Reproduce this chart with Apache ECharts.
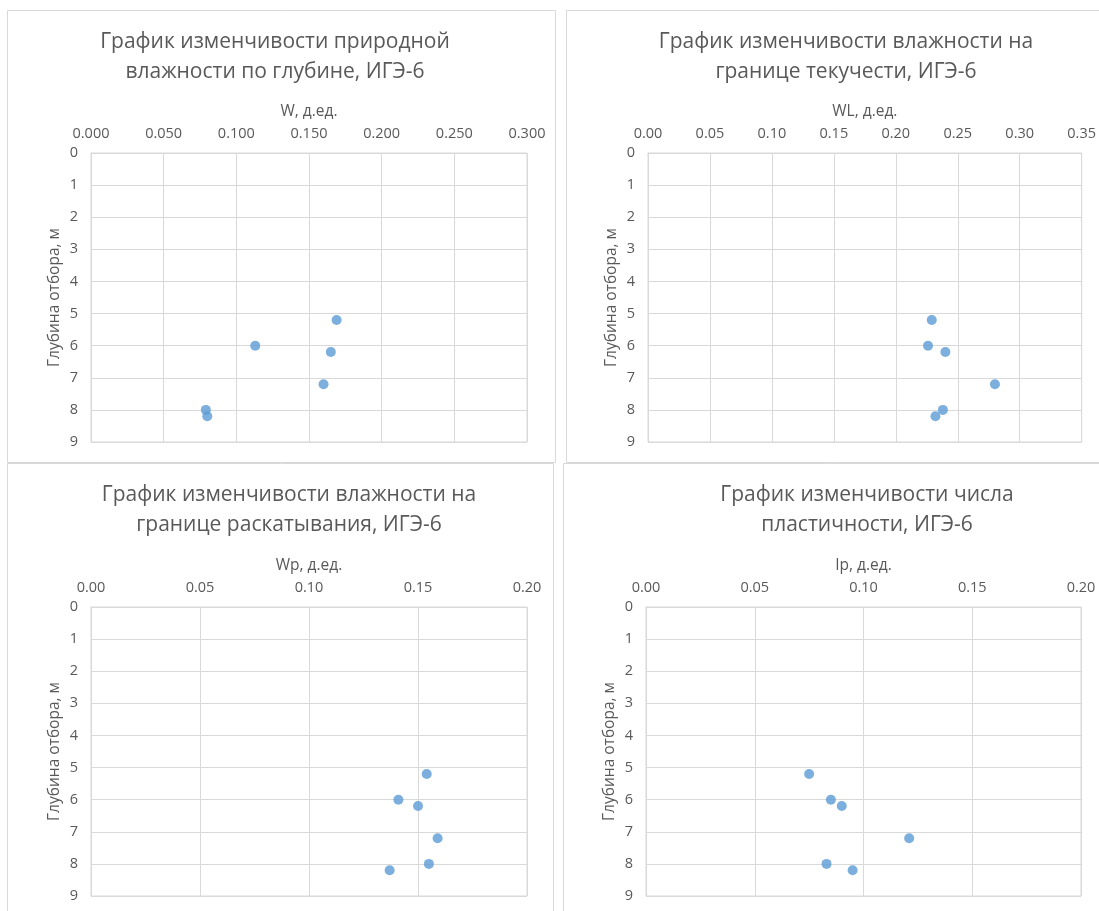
<!DOCTYPE html>
<html>
<head>
<meta charset="utf-8">
<script src="https://cdn.jsdelivr.net/npm/echarts@6/dist/echarts.min.js"></script>
<style>
  html, body { margin: 0; padding: 0; background: #ffffff; }
  #chart { width: 1099px; height: 911px; }
</style>
</head>
<body>
<div id="chart"></div>
<script>
// Sampling depths, m (shared by all four panels)
const depths = [5.2, 6.0, 6.2, 7.2, 8.0, 8.2];

// Natural moisture W, d.u.
const wNatural = [0.169, 0.113, 0.165, 0.160, 0.079, 0.080];
// Liquid limit WL, d.u.
const wLiquid = [0.229, 0.226, 0.240, 0.280, 0.238, 0.232];
// Plastic limit Wp, d.u.
const wPlastic = [0.154, 0.141, 0.150, 0.159, 0.155, 0.137];
// Plasticity index Ip, d.u.
const plasticityIndex = [0.075, 0.085, 0.090, 0.121, 0.083, 0.095];

// Panel texts
const titles = [
  ['График изменчивости природной', 'влажности по глубине, ИГЭ-6'],
  ['График изменчивости влажности на', 'границе текучести, ИГЭ-6'],
  ['График изменчивости влажности на', 'границе раскатывания, ИГЭ-6'],
  ['График изменчивости числа', 'пластичности, ИГЭ-6']
];
const xNames = ['W, д.ед.', 'WL, д.ед.', 'Wp, д.ед.', 'Ip, д.ед.'];
const yName = 'Глубина отбора, м';

// Value axis ranges
const xMax = [0.3, 0.35, 0.2, 0.2];
const xStep = [0.05, 0.05, 0.05, 0.05];
const xDecimals = [3, 2, 2, 2];
const depthMin = 0, depthMax = 9, depthStep = 1;

const seriesValues = [wNatural, wLiquid, wPlastic, plasticityIndex];

// Layout
const grids = [
  { left: 91, top: 153, width: 436, height: 289 },
  { left: 648, top: 153, width: 434, height: 289 },
  { left: 91, top: 607, width: 436, height: 289 },
  { left: 646, top: 607, width: 435, height: 289 }
];
const titleCenters = [[275, 42], [846, 42], [289, 495], [867, 495]];
const frames = [
  { x: 7.5, y: 10.5, w: 548, h: 452 },
  { x: 566.5, y: 10.5, w: 560, h: 452 },
  { x: 7.5, y: 463.5, w: 546, h: 470 },
  { x: 563.5, y: 463.5, w: 560, h: 470 }
];

const FONT = 'Open Sans';
const TEXT = '#595959';
const GRID_LINE = '#d9d9d9';

const graphics = [];
frames.forEach(f => {
  graphics.push({
    type: 'rect', silent: true, z: 0,
    shape: { x: f.x, y: f.y, width: f.w, height: f.h },
    style: { fill: 'none', stroke: GRID_LINE, lineWidth: 1 }
  });
});
titles.forEach((t, i) => {
  t.forEach((line, k) => {
    graphics.push({
      type: 'text', silent: true, z: 10,
      x: titleCenters[i][0], y: titleCenters[i][1] + k * 30,
      style: {
        text: line, fill: TEXT, fontFamily: FONT, fontSize: 21,
        textAlign: 'center', textVerticalAlign: 'middle'
      }
    });
  });
});

const option = {
  backgroundColor: '#ffffff',
  animation: false,
  graphic: graphics,
  grid: grids.map(g => Object.assign({
    show: true, borderColor: GRID_LINE, borderWidth: 1,
    backgroundColor: 'transparent', containLabel: false
  }, g)),
  xAxis: grids.map((g, i) => ({
    type: 'value', gridIndex: i, position: 'top',
    min: 0, max: xMax[i], interval: xStep[i],
    name: xNames[i], nameLocation: 'middle', nameGap: 33,
    nameTextStyle: { color: TEXT, fontFamily: FONT, fontSize: 15.5 },
    axisLine: { show: true, lineStyle: { color: GRID_LINE } },
    axisTick: { show: false },
    axisLabel: {
      color: TEXT, fontFamily: FONT, fontSize: 14.5, margin: 12,
      formatter: v => v.toFixed(xDecimals[i])
    },
    splitLine: { show: true, lineStyle: { color: GRID_LINE, width: 1 } }
  })),
  yAxis: grids.map((g, i) => ({
    type: 'value', gridIndex: i, inverse: true,
    min: depthMin, max: depthMax, interval: depthStep,
    name: yName, nameLocation: 'middle', nameGap: 28, nameRotate: 90,
    nameTextStyle: { color: TEXT, fontFamily: FONT, fontSize: 15.5 },
    axisLine: { show: true, lineStyle: { color: GRID_LINE } },
    axisTick: { show: false },
    axisLabel: { color: TEXT, fontFamily: FONT, fontSize: 14.5, margin: 13 },
    splitLine: { show: true, lineStyle: { color: GRID_LINE, width: 1 } }
  })),
  series: seriesValues.map((vals, i) => ({
    type: 'scatter', xAxisIndex: i, yAxisIndex: i,
    symbol: 'circle', symbolSize: 10,
    itemStyle: { color: '#5b9bd5' },
    data: vals.map((v, k) => [v, depths[k]])
  }))
};

const chart = echarts.init(document.getElementById('chart'), null, { renderer: 'canvas' });
chart.setOption(option);
</script>
</body>
</html>
